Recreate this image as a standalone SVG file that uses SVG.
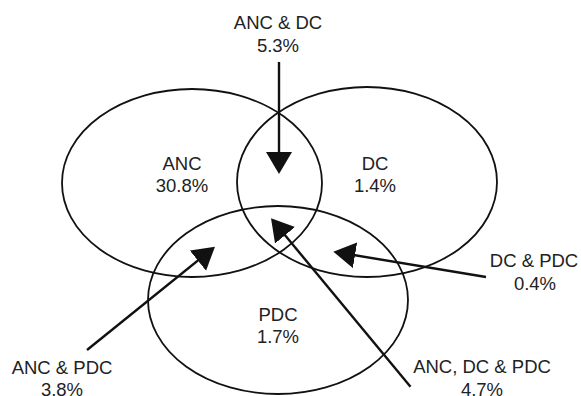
<svg xmlns="http://www.w3.org/2000/svg" width="581" height="396" viewBox="0 0 581 396">
<style>
.set{fill:none;stroke:#111;stroke-width:1.8}
.arr{fill:none;stroke:#111;stroke-width:2.4;marker-end:url(#ah)}
text{font-family:"Liberation Sans",Arial,sans-serif;font-size:18.5px;fill:#222;text-anchor:middle}
</style>
<defs>
<marker id="ah" markerUnits="userSpaceOnUse" markerWidth="24" markerHeight="28" refX="12" refY="13" orient="auto">
<path d="M0,0 L22,13 L0,26 z" fill="#111"/>
</marker>
</defs>
<rect width="581" height="396" fill="#fff"/>
<g id="ANC"><ellipse class="set" cx="192" cy="183" rx="130" ry="94"/><text x="182" y="170">ANC</text><text x="182" y="192">30.8%</text></g>
<g id="DC"><ellipse class="set" cx="367" cy="182" rx="130" ry="95"/><text x="375" y="170">DC</text><text x="375" y="192">1.4%</text></g>
<g id="PDC"><ellipse class="set" cx="278" cy="300" rx="130" ry="94"/><text x="278" y="321">PDC</text><text x="278" y="343">1.7%</text></g>
<g id="ANC_DC"><text x="278" y="29">ANC &amp; DC</text><text x="278" y="51.5">5.3%</text></g>
<g id="DC_PDC"><text x="534" y="267">DC &amp; PDC</text><text x="535" y="290">0.4%</text></g>
<g id="ANC_PDC"><text x="62" y="374">ANC &amp; PDC</text><text x="62" y="396">3.8%</text></g>
<g id="ANC_DC_PDC"><text x="482" y="373">ANC, DC &amp; PDC</text><text x="482" y="396">4.7%</text></g>
<g id="connectors">
<line class="arr" x1="279" y1="62" x2="279" y2="164"/>
<line class="arr" x1="486" y1="277" x2="343.2" y2="253.3"/>
<line class="arr" x1="87" y1="350" x2="207.2" y2="253"/>
<line class="arr" x1="410.5" y1="386.7" x2="277.4" y2="226"/>
</g>
</svg>
